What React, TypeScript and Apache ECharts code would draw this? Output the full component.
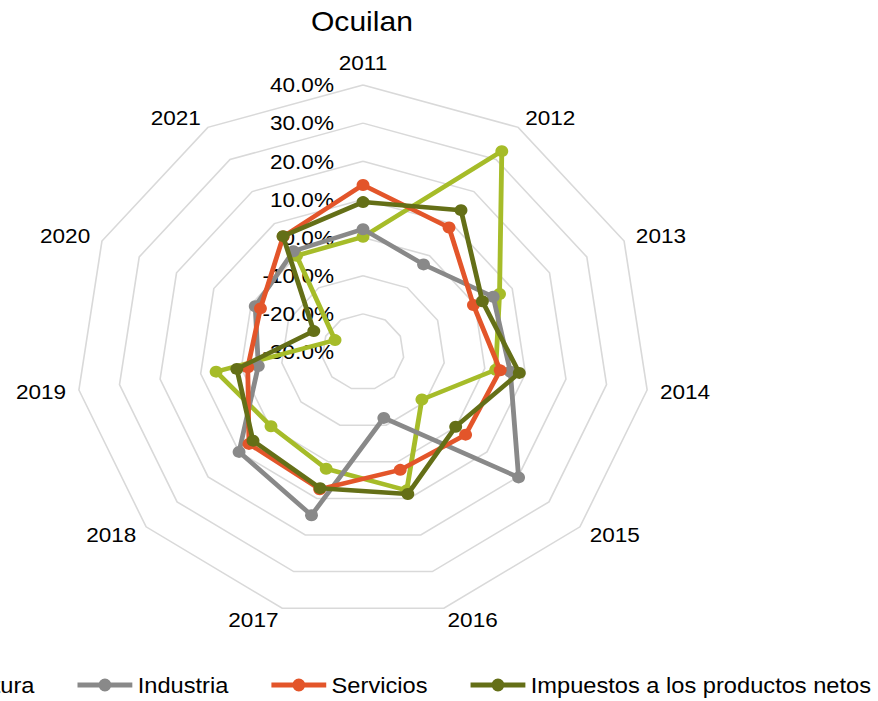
import React, { useEffect, useRef } from 'react';
import * as echarts from 'echarts';

// ---- data (values in %) ----
const years = ['2011', '2012', '2013', '2014', '2015', '2016', '2017', '2018', '2019', '2020', '2021'];
const agricultura = [0.2, 32.6, 6.6, 2.7, -11.0, 7.8, 1.9, -0.3, 6.2, -22.5, 0.0];
const industria = [2.2, -2.7, 4.9, 6.3, 20.2, -12.0, 14.6, 10.0, -4.2, -1.1, 1.4];
const servicios = [13.8, 8.8, -0.4, 3.8, 3.1, 2.2, 7.5, 6.8, -1.6, -2.5, 6.0];
const impuestos = [9.3, 14.2, 2.0, 8.5, -0.1, 8.8, 7.2, 5.5, 1.1, -16.8, 6.1];
const seriesNames = ['Agricultura', 'Industria', 'Servicios', 'Impuestos a los productos netos'];
const seriesValues = [agricultura, industria, servicios, impuestos];
const seriesColors = ['#A6BC29', '#898989', '#E3552A', '#646F17'];
const axisMin = -30;
const axisMax = 40;
const axisStep = 10;

// ---- layout ----
const SX = 1.075; // horizontal stretch of the reference plot
const CHART_W = 1100;
const CHART_H = 701;
const OFFSET_X = -225;
const FONT = '"Liberation Sans", Arial, sans-serif';

// ECharts radar runs counter-clockwise; reference runs clockwise
const order = [0, ...years.slice(1).map((_, i) => years.length - 1 - i)];
const reorder = (arr: number[]) => order.map((k) => arr[k]);

const LEGEND_ICON =
  'path://M0 4 H51 V9 H0 Z M19.45 6.5 A6.05 6.5 0 1 1 31.55 6.5 A6.05 6.5 0 1 1 19.45 6.5 Z';

export default function App() {
  const ref = useRef<HTMLDivElement>(null);

  useEffect(() => {
    if (!ref.current) return;
    const chart = echarts.init(ref.current, undefined, { renderer: 'svg' });

    const indicator = order.map((k, j) => {
      const ind: any = { name: years[k], min: axisMin, max: axisMax };
      if (j === 0) {
        ind.axisLabel = {
          show: true,
          formatter: (v: number) => v.toFixed(1) + '%',
          fontSize: 21,
          color: '#000',
          fontFamily: FONT,
          margin: 27,
          showMinLabel: true,
          showMaxLabel: true,
        };
      }
      return ind;
    });

    chart.setOption({
      animation: false,
      backgroundColor: '#fff',
      title: {
        text: 'Ocuilan',
        left: 546,
        top: 7,
        textAlign: 'center',
        padding: 0,
        textStyle: { fontSize: 28, fontWeight: 'normal', color: '#000', fontFamily: FONT },
      },
      legend: {
        data: seriesNames.map((n) => ({ name: n, icon: LEGEND_ICON })),
        left: 'center',
        top: 674,
        padding: 0,
        itemWidth: 51,
        itemHeight: 13,
        itemGap: 40,
        textStyle: { fontSize: 22, color: '#000', fontFamily: FONT },
      },
      radar: {
        center: [547, 352],
        radius: 267,
        startAngle: 90,
        splitNumber: (axisMax - axisMin) / axisStep,
        shape: 'polygon',
        indicator,
        nameGap: 12,
        axisName: { color: '#000', fontSize: 21, fontFamily: FONT },
        axisLine: { show: false },
        axisTick: { show: false },
        axisLabel: { show: false },
        splitLine: { lineStyle: { color: '#D9D9D9', width: 1.5 } },
        splitArea: { show: false },
      },
      series: seriesNames.map((name, i) => ({
        type: 'radar',
        name,
        z: 2 + i,
        symbol: 'circle',
        symbolSize: 12,
        lineStyle: { width: 4.5, color: seriesColors[i] },
        itemStyle: { color: seriesColors[i] },
        data: [{ name, value: reorder(seriesValues[i]) }],
      })),
    });

    return () => chart.dispose();
  }, []);

  return (
    <div
      style={{
        position: 'absolute',
        left: 0,
        top: 0,
        width: 878,
        height: 701,
        overflow: 'hidden',
        background: '#fff',
      }}
    >
      <div
        ref={ref}
        style={{
          position: 'absolute',
          left: OFFSET_X,
          top: 0,
          width: CHART_W,
          height: CHART_H,
          transform: `scaleX(${SX})`,
          transformOrigin: '0 0',
        }}
      />
    </div>
  );
}
